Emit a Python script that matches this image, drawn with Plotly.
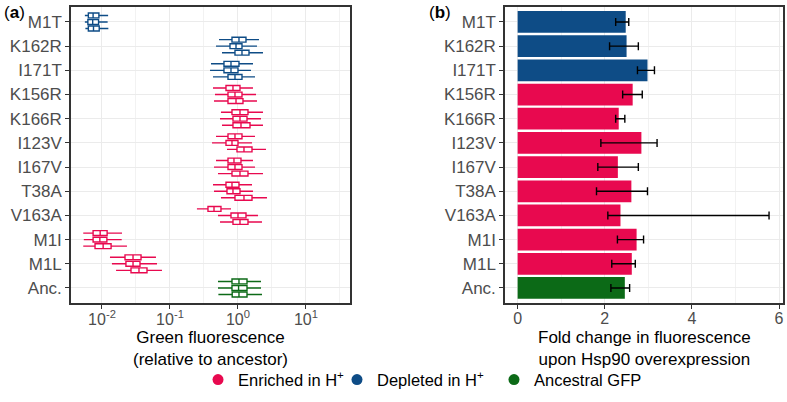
import plotly.graph_objects as go

# categories, top to bottom
mutants = ["M1T", "K162R", "I171T", "K156R", "K166R", "I123V",
           "I167V", "T38A", "V163A", "M1I", "M1L", "Anc."]
groups = ["Depleted"] * 3 + ["Enriched"] * 8 + ["Ancestral"]

# box stats per mutant, three replicates each (relative fluorescence)
lower = [[0.0056, 0.0056, 0.0057], [0.526, 0.475, 0.582], [0.401, 0.388, 0.429],
         [0.429, 0.459, 0.444], [0.562, 0.544, 0.582], [0.475, 0.415, 0.689],
         [0.475, 0.444, 0.508], [0.429, 0.444, 0.562], [0.249, 0.508, 0.544],
         [0.0053, 0.0054, 0.0053], [0.0131, 0.0140, 0.0161], [0.508, 0.508, 0.515]]
q1 = [[0.0063, 0.0062, 0.0063], [0.816, 0.763, 0.903], [0.622, 0.622, 0.713],
      [0.666, 0.713, 0.713], [0.816, 0.844, 0.844], [0.713, 0.666, 0.967],
      [0.713, 0.713, 0.816], [0.666, 0.689, 0.903], [0.362, 0.789, 0.844],
      [0.0074, 0.0074, 0.0079], [0.0218, 0.0225, 0.0267], [0.816, 0.816, 0.822]]
median = [[0.0074, 0.0073, 0.0075], [1.034, 0.935, 1.145], [0.789, 0.789, 0.903],
          [0.844, 0.903, 0.935], [1.070, 1.070, 1.107], [0.903, 0.816, 1.225],
          [0.873, 0.903, 1.070], [0.816, 0.844, 1.225], [0.444, 1.0, 1.070],
          [0.0094, 0.0093, 0.0104], [0.0286, 0.0286, 0.035], [1.034, 1.02, 1.034]]
q3 = [[0.0090, 0.0089, 0.0091], [1.311, 1.145, 1.452], [1.034, 1.0, 1.145],
      [1.070, 1.145, 1.184], [1.403, 1.357, 1.502], [1.145, 1.0, 1.607],
      [1.107, 1.145, 1.403], [1.034, 1.070, 1.607], [0.562, 1.311, 1.403],
      [0.0119, 0.0118, 0.0136], [0.0375, 0.0362, 0.0459], [1.357, 1.357, 1.357]]
upper = [[0.0123, 0.0121, 0.0124], [2.036, 1.903, 2.332], [1.662, 1.553, 1.779],
         [1.662, 1.84, 1.903], [2.332, 2.179, 2.332], [1.779, 1.607, 2.58],
         [1.662, 1.779, 2.332], [1.607, 1.662, 2.67], [0.789, 1.968, 2.254],
         [0.0197, 0.0195, 0.0233], [0.0622, 0.0644, 0.0762], [2.179, 2.179, 2.254]]

# fold change upon Hsp90 overexpression, with interval ends
fold = [2.48, 2.50, 2.98, 2.64, 2.32, 2.84, 2.30, 2.61, 2.36, 2.73, 2.62, 2.46]
fold_lo = [2.25, 2.11, 2.75, 2.41, 2.25, 1.91, 1.84, 1.81, 2.07, 2.29, 2.16, 2.14]
fold_hi = [2.55, 2.77, 3.14, 2.86, 2.46, 3.20, 2.77, 2.98, 5.77, 2.89, 2.70, 2.57]

colours = {"Enriched": "#E8094F", "Depleted": "#0E4C86", "Ancestral": "#0C6A17"}
legend_names = {"Enriched": "Enriched in H<sup>+</sup>",
                "Depleted": "Depleted in H<sup>+</sup>",
                "Ancestral": "Ancestral GFP"}

fig = go.Figure()

# (a) boxplots, one trace per group and replicate
for g in ["Depleted", "Enriched", "Ancestral"]:
    idx = [i for i, gg in enumerate(groups) if gg == g]
    for r in range(3):
        fig.add_trace(go.Box(
            y=[mutants[i] for i in idx],
            lowerfence=[lower[i][r] for i in idx],
            q1=[q1[i][r] for i in idx],
            median=[median[i][r] for i in idx],
            q3=[q3[i][r] for i in idx],
            upperfence=[upper[i][r] for i in idx],
            orientation="h", offsetgroup=str(r), alignmentgroup="a",
            fillcolor="white", line=dict(color=colours[g], width=1.4),
            whiskerwidth=0, showlegend=False, hoverinfo="skip",
            xaxis="x", yaxis="y",
        ))

# (b) bars with error bars
for g in ["Depleted", "Enriched", "Ancestral"]:
    idx = [i for i, gg in enumerate(groups) if gg == g]
    fig.add_trace(go.Bar(
        y=[mutants[i] for i in idx],
        x=[fold[i] for i in idx],
        orientation="h", width=0.9,
        marker=dict(color=colours[g], line=dict(width=0)),
        error_x=dict(type="data",
                     array=[fold_hi[i] - fold[i] for i in idx],
                     arrayminus=[fold[i] - fold_lo[i] for i in idx],
                     color="black", thickness=1.4, width=4),
        showlegend=False, xaxis="x2", yaxis="y2",
    ))

# legend entries, each in its own legend box so they can be spaced like the original
for g, leg in [("Enriched", "legend"), ("Depleted", "legend2"), ("Ancestral", "legend3")]:
    fig.add_trace(go.Scatter(
        x=[None], y=[None], mode="markers", name=legend_names[g],
        marker=dict(color=colours[g], size=11, symbol="circle"),
        xaxis="x2", yaxis="y2", legend=leg,
    ))

FONT = "Liberation Sans, Arial, sans-serif"
grid = "#EBEBEB"
title_font = dict(family=FONT, size=17, color="black")
frame = dict(showline=True, mirror=True, linecolor="#333333", linewidth=1.5,
             ticks="outside", ticklen=4, tickcolor="#333333",
             tickfont=dict(family=FONT, size=16, color="#4D4D4D"),
             gridcolor=grid, gridwidth=1, zeroline=False,
             automargin=False, ticklabeloverflow="allow")

yax = dict(frame, categoryorder="array", categoryarray=mutants,
           range=[11.62, -0.62], domain=[0.2463, 0.9826],
           tickfont=dict(family=FONT, size=17, color="#4D4D4D"))

left_dom = [0.0902, 0.4447]
right_dom = [0.6417, 0.9949]

legend_style = dict(orientation="h", xanchor="left", y=0.055, yanchor="middle",
                    font=dict(family=FONT, size=16.5, color="black"),
                    itemwidth=30, bgcolor="rgba(0,0,0,0)")

fig.update_layout(
    width=787, height=402,
    margin=dict(l=0, r=0, t=0, b=0),
    paper_bgcolor="white", plot_bgcolor="white",
    font=dict(family=FONT),
    boxmode="group", boxgap=0.19, boxgroupgap=0.25,
    barmode="overlay",
    xaxis=dict(frame, type="log", domain=left_dom, range=[-2.456, 1.647],
               tickvals=[0.01, 0.1, 1, 10],
               ticktext=["10<sup>-2</sup>", "10<sup>-1</sup>", "10<sup>0</sup>", "10<sup>1</sup>"],
               minor=dict(tickvals=[10 ** -1.5, 10 ** -0.5, 10 ** 0.5, 10 ** 1.5],
                          showgrid=True, gridcolor="#F2F2F2", gridwidth=1, ticks=""),
               ticklabelstandoff=-3, anchor="y"),
    yaxis=dict(yax, anchor="x"),
    xaxis2=dict(frame, domain=right_dom, range=[-0.29, 6.09],
                tickvals=[0, 2, 4, 6],
                minor=dict(tickvals=[1, 3, 5], showgrid=True, gridcolor="#F2F2F2",
                           gridwidth=1, ticks=""),
                ticklabelstandoff=-4, anchor="y2"),
    yaxis2=dict(yax, anchor="x2"),
    legend=dict(legend_style, x=0.2516),
    legend2=dict(legend_style, x=0.4282),
    legend3=dict(legend_style, x=0.6277),
    annotations=[
        dict(text="(<b>a</b>)", x=0.002, y=0.998, xref="paper", yref="paper",
             xanchor="left", yanchor="top", showarrow=False,
             font=dict(family=FONT, size=17, color="black")),
        dict(text="(<b>b</b>)", x=0.5426, y=0.998, xref="paper", yref="paper",
             xanchor="left", yanchor="top", showarrow=False,
             font=dict(family=FONT, size=17, color="black")),
        # axis titles
        dict(text="Green fluorescence<br>(relative to ancestor)",
             x=sum(left_dom) / 2, y=0.1343, xref="paper", yref="paper",
             xanchor="center", yanchor="middle", showarrow=False, font=title_font),
        dict(text="Fold change in fluorescence<br>upon Hsp90 overexpression",
             x=sum(right_dom) / 2, y=0.1343, xref="paper", yref="paper",
             xanchor="center", yanchor="middle", showarrow=False, font=title_font),
    ],
)

fig.write_html("out.html", config={"displayModeBar": False},
               post_script="document.body.style.margin='0';")
